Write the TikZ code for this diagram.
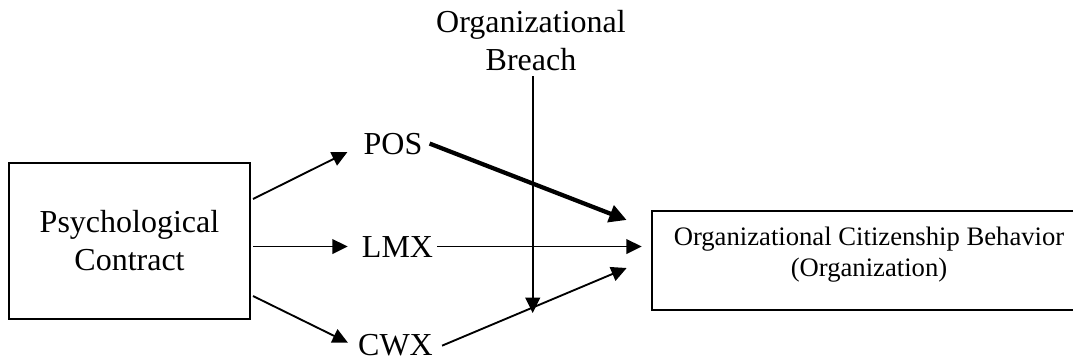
\documentclass[tikz,border=0pt]{standalone}
\usepackage{fontspec}
\setmainfont{Liberation Serif}
\usetikzlibrary{arrows.meta,calc}
\begin{document}
\begin{tikzpicture}[x=0.75pt,y=-0.75pt,
  box/.style={draw,line width=1.5pt,align=center,inner sep=0pt},
  lbl/.style={inner sep=0pt,font=\fontsize{24pt}{28.5pt}\selectfont},
  conn/.style={line width=1.4pt,-{Triangle[length=11.5pt,width=11pt]}},
  thickconn/.style={line width=3.2pt,-{Triangle[length=13pt,width=13pt]}}]
\useasboundingbox (0,0) rectangle (1073,358);
\node[box,minimum width=180.75pt,minimum height=117.2pt,font=\fontsize{24pt}{28.5pt}\selectfont] (psych) at (129.5,241) {Psychological\\Contract};
\node[box,minimum width=326pt,minimum height=74.5pt,font=\fontsize{20pt}{22.9pt}\selectfont] (ocb) at (869,260.5) {Organizational Citizenship Behavior\\(Organization)\rule[-13pt]{0pt}{0pt}};
\node[lbl,anchor=base] (pos) at (393,154) {POS};
\node[lbl,anchor=base] (lmx) at (397.5,257) {LMX};
\node[lbl,anchor=base] (cwx) at (395.5,355) {CWX};
\node[lbl,align=center,anchor=south] (breach) at (531,71) {Organizational\\Breach};
\draw[conn] ($(psych.east)+(2,-42)$) -- ($(pos.west)+(-16,8.5)$);
\draw[conn] ($(psych.east |- lmx.west)+(2,0)$) -- ($(lmx.west)+(-14,0)$);
\draw[conn] ($(psych.east)+(2,55)$) -- ($(cwx.west)+(-10,-2)$);
\draw[thickconn] ($(pos.east)+(7,0)$) -- ($(ocb.west)+(-24,-40.5)$);
\draw[conn] ($(lmx.east)+(4,0)$) -- ($(lmx.east -| ocb.west)+(-9,0)$);
\draw[conn] ($(cwx.east)+(9,1)$) -- ($(ocb.west)+(-24,7.5)$);
\draw[conn] ($(breach.south)+(1.7,5)$) -- ($(breach.south)+(1.7,242)$);
\end{tikzpicture}
\end{document}
